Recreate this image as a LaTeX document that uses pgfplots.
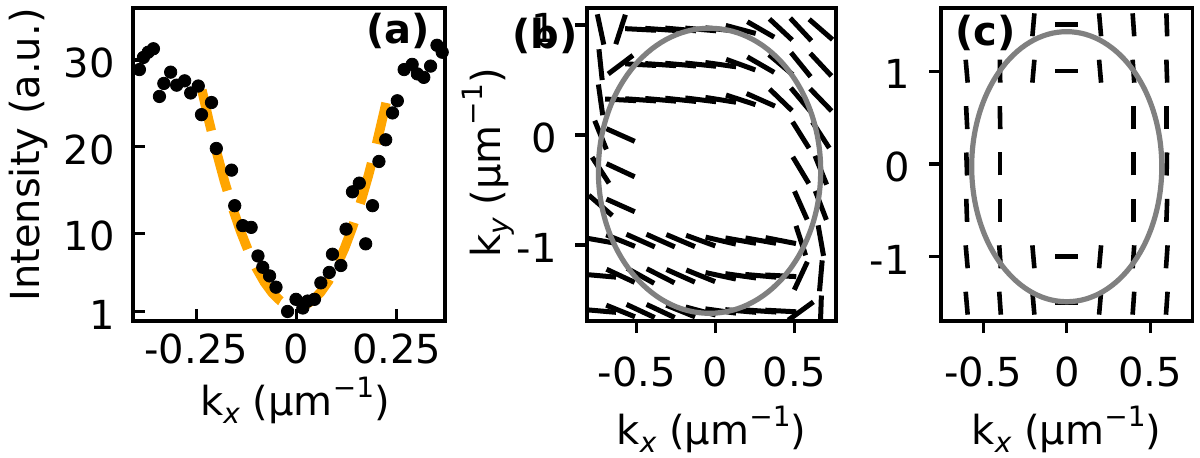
\documentclass[border=0pt]{standalone}
\usepackage{fontspec}
\setmainfont{DejaVu Sans}
\usepackage{pgfplots}
\usepackage{pgfplotstable}
\pgfplotsset{compat=1.18}

\definecolor{fitorange}{RGB}{255,165,0}
\definecolor{ellgray}{RGB}{128,128,128}

\newcommand{\lbl}{\fontsize{20}{24}\selectfont}
\newcommand{\sub}[1]{\raisebox{-0.22em}{\fontsize{14}{14}\selectfont\itshape #1}}
\newcommand{\invum}{(µm\raisebox{0.45em}{\fontsize{14}{14}\selectfont −1})}

% measured intensity profile along k_x
\pgfplotstableread{
kx I
-0.392 28.9
-0.382 30.3
-0.370 30.9
-0.357 31.3
-0.342 25.8
-0.331 27.3
-0.314 28.6
-0.299 27.1
-0.279 27.6
-0.264 26.2
-0.245 27.0
-0.237 23.7
-0.212 25.1
-0.200 19.8
-0.162 17.3
-0.154 13.2
-0.134 10.9
-0.113 10.7
-0.096 7.4
-0.084 6.1
-0.067 5.1
-0.051 3.8
-0.022 1.0
-0.001 2.4
0.016 1.4
0.028 2.2
0.045 2.4
0.061 4.3
0.082 5.5
0.090 7.6
0.111 6.3
0.124 10.5
0.140 14.8
0.157 15.8
0.173 8.8
0.190 13.2
0.206 18.3
0.223 20.8
0.240 23.9
0.252 25.3
0.269 28.9
0.289 29.5
0.302 28.4
0.318 28.0
0.335 29.3
0.351 31.7
0.364 30.9
}\intensity

% fitted profile
\pgfplotstableread{
kx I
-0.236 26.56
-0.22 23.28
-0.20 19.50
-0.18 16.08
-0.16 13.02
-0.14 10.32
-0.12 7.98
-0.10 6.00
-0.08 4.38
-0.06 3.12
-0.04 2.22
-0.02 1.68
0.00 1.50
0.02 1.69
0.04 2.25
0.06 3.19
0.08 4.51
0.10 6.20
0.12 8.27
0.14 10.71
0.16 13.53
0.18 16.73
0.20 20.30
0.22 24.25
0.232 26.80
}\fitcurve

% orientation field (b): grid point and angle in degrees
\pgfplotstableread{
x y a
-0.730 0.96 -78
-0.603 0.96 72
-0.476 0.96 -3
-0.349 0.96 -4
-0.222 0.96 -5
-0.095 0.96 -5
0.032 0.96 -6
0.159 0.96 -15
0.286 0.96 -30
0.413 0.96 -43
0.540 0.96 -47
0.667 0.96 -41
-0.730 0.64 -84
-0.603 0.64 37
-0.476 0.64 -3
-0.349 0.64 -4
-0.222 0.64 -5
-0.095 0.64 -6
0.032 0.64 -8
0.159 0.64 -20
0.286 0.64 -30
0.413 0.64 -40
0.540 0.64 -51
0.667 0.64 -47
-0.730 0.32 -82
-0.603 0.32 -3
-0.476 0.32 -4
-0.349 0.32 -5
-0.222 0.32 -6
-0.095 0.32 -7
0.032 0.32 -9
0.159 0.32 -18
0.286 0.32 -24
0.413 0.32 -44
0.540 0.32 -50
0.667 0.32 -46
-0.730 0.00 -68
-0.603 0.00 -24
0.540 0.00 -58
0.667 0.00 -57
-0.730 -0.32 -57
-0.603 -0.32 -25
0.540 -0.32 -59
0.667 -0.32 -68
-0.730 -0.64 -41
-0.603 -0.64 -24
0.540 -0.64 -66
0.667 -0.64 -69
-0.730 -0.96 -10
-0.603 -0.96 -22
-0.476 -0.96 -24
-0.349 -0.96 -24
-0.222 -0.96 -23
-0.095 -0.96 -20
0.032 -0.96 -13
0.159 -0.96 -10
0.286 -0.96 -10
0.413 -0.96 -11
0.540 -0.96 -72
0.667 -0.96 -80
-0.730 -1.28 -5
-0.603 -1.28 -25
-0.476 -1.28 -29
-0.349 -1.28 -27
-0.222 -1.28 -24
-0.095 -1.28 -22
0.032 -1.28 -12
0.159 -1.28 -8
0.286 -1.28 -5
0.413 -1.28 -3
0.540 -1.28 65
0.667 -1.28 85
-0.730 -1.60 -5
-0.603 -1.60 -22
-0.476 -1.60 -25
-0.349 -1.60 -25
-0.222 -1.60 -22
-0.095 -1.60 -15
0.032 -1.60 -8
0.159 -1.60 -5
0.286 -1.60 -4
0.413 -1.60 -3
0.540 -1.60 36
0.667 -1.60 88
}\fieldb

% orientation field (c)
\pgfplotstableread{
x y a
-0.2 1.5 85
0.0 1.5 0
0.2 1.5 95
0.4 1.5 94
0.6 1.5 92
-0.6 1.0 95
-0.4 1.0 91
-0.2 1.0 85
0.0 1.0 0
0.2 1.0 95
0.4 1.0 94
0.6 1.0 92
-0.6 0.5 93
-0.4 0.5 91
0.4 0.5 90
0.6 0.5 90
-0.6 0.0 92
-0.4 0.0 90
0.4 0.0 90
0.6 0.0 89
-0.6 -0.5 92
-0.4 -0.5 90
0.4 -0.5 90
0.6 -0.5 88
-0.6 -1.0 95
-0.4 -1.0 94
-0.2 -1.0 95
0.0 -1.0 0
0.2 -1.0 85
0.4 -1.0 86
0.6 -1.0 86
-0.6 -1.5 95
-0.4 -1.5 94
-0.2 -1.5 95
0.0 -1.5 0
0.2 -1.5 85
0.4 -1.5 86
0.6 -1.5 86
}\fieldc

\pgfplotsset{
  panel/.style={
    scale only axis, anchor=south west,
    axis line style={line width=1.6pt},
    every tick/.style={black, line width=1.6pt},
    major tick length=6pt,
    tick pos=left,
    every tick label/.append style={font=\lbl},
  },
}

\begin{document}
\begin{tikzpicture}
\useasboundingbox (0,0) rectangle (600pt,228.5pt);

% (a) intensity profile
\begin{axis}[panel, at={(66.5pt,68pt)}, width=156pt, height=156.5pt,
  xmin=-0.408, xmax=0.371, ymin=-0.1, ymax=36,
  xtick={-0.25,0,0.25}, xticklabels={-0.25,0,0.25},
  ytick={1,10,20,30}, yticklabels={1,10,20,30},
  tick align=inside,
  xticklabel style={anchor=base, yshift=-21pt},
  yticklabel style={anchor=east, inner sep=0pt, xshift=-9pt, yshift=-1.5pt}]
\addplot[only marks, mark=*, mark size=3.1pt, black] table[x=kx, y=I] \intensity;
\addplot[fitorange, line width=4.75pt, dash pattern=on 21pt off 10pt] table[x=kx, y=I] \fitcurve;
\end{axis}

% (b) orientation field with ring
\begin{axis}[panel, at={(293.5pt,68pt)}, width=124.5pt, height=156.5pt,
  xmin=-0.816, xmax=0.763, ymin=-1.691, ymax=1.155,
  xtick={-0.5,0,0.5}, xticklabels={-0.5,0,0.5},
  ytick={-1,0,1}, yticklabels={-1,0,1},
  tick align=outside,
  xticklabel style={anchor=base, yshift=-26.5pt},
  yticklabel style={anchor=east, inner sep=0pt, xshift=-9pt, yshift=-1.5pt}]
\addplot[black, line width=2.5pt,
  quiver={u={0.1966*cos(\thisrow{a})}, v={0.2818*sin(\thisrow{a})}}]
  table[x expr={\thisrow{x}-0.0983*cos(\thisrow{a})},
        y expr={\thisrow{y}-0.1409*sin(\thisrow{a})}] \fieldb;
\draw[ellgray, line width=2.6pt] (axis cs:-0.039,-0.325) ellipse [x radius=0.705, y radius=1.296];
\end{axis}

% (c) orientation field with ring
\begin{axis}[panel, at={(470.5pt,68pt)}, width=125.65pt, height=156.5pt,
  xmin=-0.754, xmax=0.753, ymin=-1.692, ymax=1.681,
  xtick={-0.5,0,0.5}, xticklabels={-0.5,0,0.5},
  ytick={-1,0,1}, yticklabels={-1,0,1},
  tick align=outside,
  xticklabel style={anchor=base, yshift=-26.5pt},
  yticklabel style={anchor=east, inner sep=0pt, xshift=-9.5pt, yshift=-1.5pt}]
\addplot[black, line width=2.3pt,
  quiver={u={0.138*cos(\thisrow{a})}, v={0.248*sin(\thisrow{a})}}]
  table[x expr={\thisrow{x}-0.069*cos(\thisrow{a})},
        y expr={\thisrow{y}-0.124*sin(\thisrow{a})}] \fieldc;
\draw[ellgray, line width=2.6pt] (axis cs:0,-0.029) ellipse [x radius=0.570, y radius=1.455];
\end{axis}

% axis titles and panel tags
\node[font=\lbl, rotate=90, anchor=base] at (20pt,151pt) {Intensity (a.u.)};
\node[font=\lbl, anchor=base] at (147.5pt,21pt) {k\sub{x} \invum};
\node[font=\lbl, rotate=90, anchor=base] at (250pt,147pt) {k\sub{y} \invum};
\node[font=\lbl, anchor=base] at (355.75pt,6.5pt) {k\sub{x} \invum};
\node[font=\lbl, anchor=base] at (533.25pt,6.5pt) {k\sub{x} \invum};
\node[font=\bfseries\lbl, anchor=north east, inner sep=0pt] at (215pt,222pt) {(a)};
\node[font=\bfseries\lbl, anchor=north east, inner sep=0pt] at (289pt,219.5pt) {(b)};
\node[font=\bfseries\lbl, anchor=north west, inner sep=0pt] at (477.5pt,221pt) {(c)};
\end{tikzpicture}
\end{document}
